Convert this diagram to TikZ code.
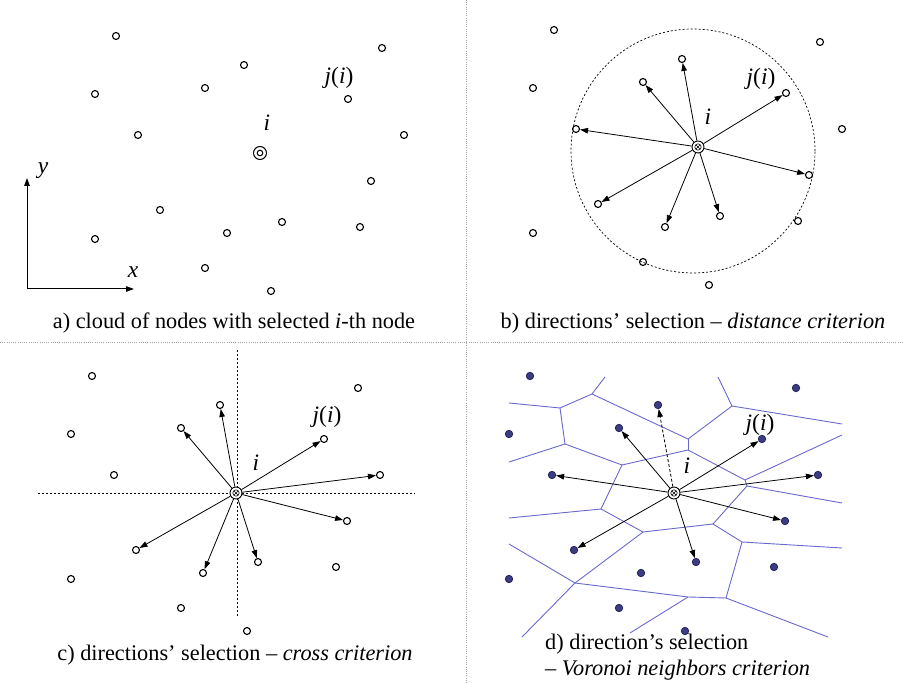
\documentclass[tikz,border=0pt]{standalone}
\usepackage{fontspec}
\setmainfont{Liberation Serif}
\usetikzlibrary{arrows.meta}
\definecolor{vor}{RGB}{105,105,205}
\definecolor{vdot}{RGB}{60,60,130}
\definecolor{vdotd}{RGB}{30,30,80}
\definecolor{sepc}{RGB}{165,165,165}
\newcommand\drawcloud[2]{%
  \foreach \n/\x/\y in {1/116/36,2/382/48,3/244/65,4/205/88,5/95/94,6/348/99,7/138/135,8/404/135,9/371/181,10/160/210,11/282/222,12/227/233,13/360/227,14/95/239,15/205/268,16/271/291}{%
    \node[#2] (#1\n) at (\x,\y) {};}}
\begin{document}
\begin{tikzpicture}[x=1pt,y=-1pt,
  pt/.style={circle,draw,line width=1.1pt,inner sep=0pt,minimum size=7pt},
  vpt/.style={circle,draw=vdotd,fill=vdot,line width=0.7pt,inner sep=0pt,minimum size=7.5pt},
  ctra/.style={circle,draw,line width=1pt,inner sep=0pt,minimum size=13pt,
    path picture={\draw[line width=1pt] (path picture bounding box.center) circle (2.8pt);}},
  ctr/.style={circle,draw,fill=white,line width=0.9pt,inner sep=0pt,minimum size=12pt,
    path picture={\draw[line width=0.6pt] (path picture bounding box.center) circle (3.2pt);
      \draw[line width=0.5pt] ([shift={(-2pt,-2pt)}]path picture bounding box.center) -- ([shift={(2pt,2pt)}]path picture bounding box.center);
      \draw[line width=0.5pt] ([shift={(-2pt,2pt)}]path picture bounding box.center) -- ([shift={(2pt,-2pt)}]path picture bounding box.center);}},
  arr/.style={line width=0.8pt,-{Triangle[length=8pt,width=5.5pt]}},
  darr/.style={arr,dash pattern=on 3pt off 2pt},
  axarr/.style={line width=1pt,-{Triangle[length=8pt,width=5.5pt]}},
  fine/.style={line width=0.7pt,dash pattern=on 2pt off 2pt},
  sepline/.style={sepc,line width=0.8pt,dash pattern=on 1pt off 1.2pt},
  vedge/.style={vor,line width=0.9pt},
  lab/.style={font=\fontsize{23.5}{26}\selectfont,inner sep=0pt},
  capt/.style={font=\fontsize{22.3}{26}\selectfont,inner sep=0pt}]
\useasboundingbox (0,0) rectangle (903,684);
% separators
\coordinate (hl) at (0,342); \coordinate (hr) at (903,342);
\coordinate (vt) at (466,0); \coordinate (vb) at (466,684);
\draw[sepline] (hl) -- (hr);
\draw[sepline] (vt) -- (vb);
% ---------- panel a ----------
\drawcloud{a}{pt}
\node[ctra] (ac) at (260,153) {};
\node[lab] (ai) at (267,123) {\textit{i}};
\node[lab] (aj) at (339,78) {\textit{j}(\textit{i})};
\coordinate (ao) at (27,289); \coordinate (ay) at (27,178); \coordinate (ax) at (134,289);
\draw[axarr] (ao) -- (ay);
\draw[axarr] (ao) -- (ax);
\node[lab] (aylab) at (43,171) {\textit{y}};
\node[lab] (axlab) at (133,272) {\textit{x}};
\node[capt] (capa) at (234,323) {a) cloud of nodes with selected \textit{i}-th node};
% ---------- panel b ----------
\draw[fine] (693,151) circle [radius=122pt];
\begin{scope}[shift={(438,-6)}]
\drawcloud{b}{pt}
\end{scope}
\node[ctr] (bc) at (698,147) {};
\foreach \t in {3,4,6,7,9,10,11,12}{\draw[arr] (bc) -- (b\t);}
\node[lab] (bi) at (708,117) {\textit{i}};
\node[lab] (bj) at (761,79) {\textit{j}(\textit{i})};
\node[capt] (capb) at (693,323) {b) directions’ selection – \textit{distance criterion}};
% ---------- panel c ----------
\coordinate (chl) at (38,493); \coordinate (chr) at (415,493);
\coordinate (cvt) at (237,350); \coordinate (cvb) at (237,617);
\draw[fine] (chl) -- (chr);
\draw[fine] (cvt) -- (cvb);
\begin{scope}[shift={(-24,340)}]
\drawcloud{c}{pt}
\end{scope}
\node[ctr] (cc) at (236,493) {};
\foreach \t in {3,4,6,8,9,10,11,12}{\draw[arr] (cc) -- (c\t);}
\node[lab] (ci) at (256,463) {\textit{i}};
\node[lab] (cj) at (327,417) {\textit{j}(\textit{i})};
\node[capt] (capc) at (235,655) {c) directions’ selection – \textit{cross criterion}};
% ---------- panel d ----------
\foreach \xa/\ya/\xb/\yb in {509/403/560/408, 560/408/592/394, 592/394/605/377, 592/394/688/439,
  560/408/565/444, 565/444/509/462, 565/444/622/465, 622/465/688/450, 688/450/688/439,
  688/439/732/406, 732/406/718/377, 732/406/842/424, 688/450/745/480, 745/480/842/435,
  745/480/747/486, 747/486/842/503, 747/486/713/524, 713/524/643/532, 713/524/742/542,
  742/542/842/548, 742/542/726/598, 726/598/828/637, 726/598/688/597, 688/597/630/633,
  688/597/575/583, 575/583/509/544, 575/583/522/637, 575/583/643/532, 643/532/601/509,
  601/509/622/465, 601/509/509/518}{\draw[vedge] (\xa,\ya) -- (\xb,\yb);}
\begin{scope}[shift={(414,340)}]
\drawcloud{d}{vpt}
\end{scope}
\node[ctr] (dc) at (674,493) {};
\foreach \t in {4,6,7,8,9,10,11}{\draw[arr] (dc) -- (d\t);}
\draw[darr] (dc) -- (d3);
\node[lab] (di) at (687,466) {\textit{i}};
\node[lab] (dj) at (760,425) {\textit{j}(\textit{i})};
\node[capt,anchor=west] (capd1) at (545,644) {d) direction’s selection};
\node[capt,anchor=west] (capd2) at (545,670) {– \textit{Voronoi neighbors criterion}};
\end{tikzpicture}
\end{document}
